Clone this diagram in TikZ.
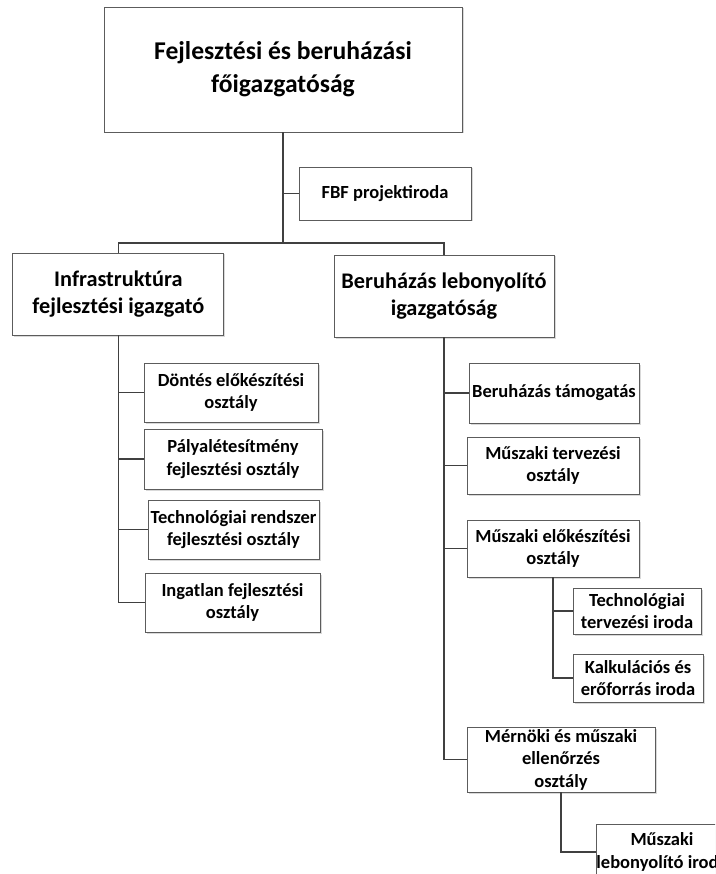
\documentclass[tikz,border=0pt]{standalone}
\usepackage{fontspec}
\setmainfont{Carlito}
\usetikzlibrary{shadows}
\definecolor{boxgray}{RGB}{92,92,92}
\definecolor{linegray}{RGB}{64,64,64}
\def\fsHead{\fontsize{25.6}{33}\selectfont\bfseries}
\def\fsChief{\fontsize{22.3}{27}\selectfont\bfseries}
\def\fsDept{\fontsize{18.5}{22.5}\selectfont\bfseries}

\begin{document}
\begin{tikzpicture}[x=1pt,y=-1pt,
  box/.style={draw=boxgray, line width=0.9pt, fill=white, align=center, inner sep=0pt,
    drop shadow={shadow xshift=1.5pt, shadow yshift=-1.5pt, opacity=0.3, fill=gray}},
  head/.style={box, font=\fsHead},
  chief/.style={box, font=\fsChief},
  dept/.style={box, font=\fsDept},
  link/.style={draw=linegray, line width=1.2pt}]
  \useasboundingbox (0,0) rectangle (715,874);
  \clip (0,0) rectangle (715,874);
  \node[head, minimum width=358pt, minimum height=125pt] (main) at (283,69.5) {Fejlesztési és beruházási\\főigazgatóság};
  \node[dept, minimum width=172pt, minimum height=53pt] (fbf) at (385,193.5) {FBF projektiroda};
  \node[chief, minimum width=211pt, minimum height=82pt] (infra) at (118.4,294) {Infrastruktúra\\fejlesztési igazgató};
  \node[chief, minimum width=220pt, minimum height=82pt] (lebony) at (444,296) {Beruházás lebonyolító\\igazgatóság};
  % left branch
  \node[dept, minimum width=174pt, minimum height=59pt] (dontes) at (231,392.5) {Döntés előkészítési\\osztály};
  \node[dept, minimum width=178pt, minimum height=60pt] (palya) at (233,459) {Pályalétesítmény\\fejlesztési osztály};
  \node[dept, minimum width=171pt, minimum height=59pt] (techrend) at (233.5,529.5) {Technológiai rendszer\\fejlesztési osztály};
  \node[dept, minimum width=175pt, minimum height=59pt] (ingatlan) at (232.5,602.5) {Ingatlan fejlesztési\\osztály};
  % right branch
  \node[dept, minimum width=170pt, minimum height=60pt] (tamog) at (554,393) {Beruházás támogatás};
  \node[dept, minimum width=172pt, minimum height=57pt] (tervez) at (553,465.5) {Műszaki tervezési\\osztály};
  \node[dept, minimum width=172pt, minimum height=57pt] (elokesz) at (553,548.5) {Műszaki előkészítési\\osztály};
  \node[dept, minimum width=128pt, minimum height=46pt] (techterv) at (637,611) {Technológiai\\tervezési iroda};
  \node[dept, minimum width=130pt, minimum height=48pt] (kalk) at (638,678) {Kalkulációs és\\erőforrás iroda};
  \node[dept, minimum width=188pt, minimum height=65pt] (mernoki) at (561,759.5) {Mérnöki és műszaki\\ellenőrzés\\osztály};
  \node[dept, minimum width=130pt, minimum height=56pt] (lebiroda) at (662,852) {Műszaki\\lebonyolító iroda};
  % connectors
  \coordinate (hub) at (283,243);
  \draw[link] (main) -- (hub);
  \draw[link] (main.south) |- (fbf.west);
  \draw[link] (infra.north) |- (hub) -| (lebony.north);
  \foreach \d in {dontes,palya,techrend,ingatlan}
    \draw[link] (infra.south) |- (\d.west);
  \foreach \d in {tamog,tervez,elokesz,mernoki}
    \draw[link] (lebony.south) |- (\d.west);
  \foreach \d in {techterv,kalk}
    \draw[link] (elokesz.south) |- (\d.west);
  \draw[link] (mernoki.south) |- (lebiroda.west);
\end{tikzpicture}
\end{document}
